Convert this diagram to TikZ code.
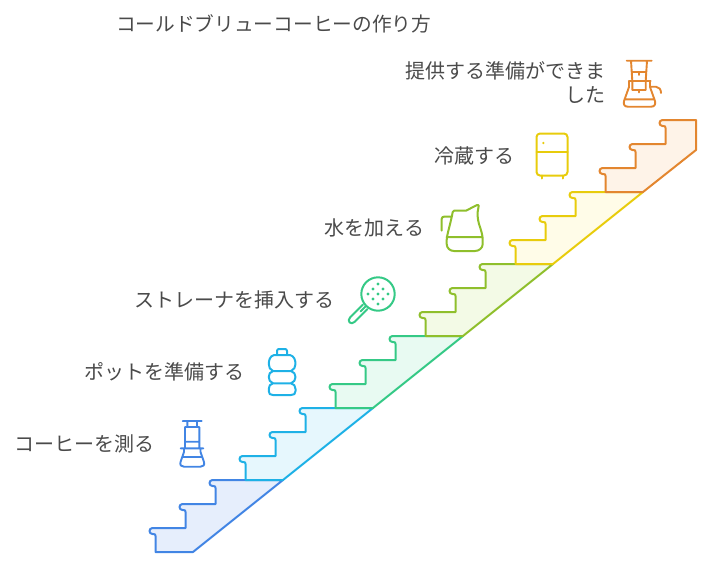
\documentclass[tikz,border=0pt]{standalone}
\usepackage{fontspec}
\setmainfont{Noto Sans CJK JP}
\definecolor{cA}{HTML}{4285E4}\definecolor{fA}{HTML}{E6EEFC}
\definecolor{cB}{HTML}{1EB1E6}\definecolor{fB}{HTML}{E6F7FD}
\definecolor{cC}{HTML}{35C986}\definecolor{fC}{HTML}{E8FAF2}
\definecolor{cD}{HTML}{8FBF2C}\definecolor{fD}{HTML}{F3FAE6}
\definecolor{cE}{HTML}{E8CC0C}\definecolor{fE}{HTML}{FFFCE8}
\definecolor{cF}{HTML}{E3862F}\definecolor{fF}{HTML}{FEF3E8}
\definecolor{txt}{HTML}{4A4A4A}
\tikzset{
  label text/.style={text=txt,font=\fontsize{20}{24}\selectfont,inner sep=0pt,outer sep=0pt},
  title text/.style={text=txt,font=\fontsize{19.7}{24}\selectfont,inner sep=0pt,outer sep=0pt},
  line s/.style={line width=2pt,line join=round,line cap=round},
  icon s/.style={line width=1.9pt,line join=round,line cap=round},
}
\begin{document}
\begin{tikzpicture}[x=1pt,y=-1pt]
\useasboundingbox (0,0) rectangle (709,565);
% one riser with its rounded nose: vertical line at x=#1, tread at y=#2
\def\nose#1#2{%
  -- (#1,#2+8) .. controls (#1,#2+6.6) and (#1-0.6,#2+6) .. (#1-2,#2+6)
  -- (#1-3,#2+6) .. controls (#1-7,#2+6) and (#1-7,#2) .. (#1-3,#2)}
\def\stair#1#2#3#4{%
 \begin{scope}[shift={(#3,#4)}]
 \filldraw[line s,draw=#1,fill=#2]
  (193,552) -- (155.5,552) \nose{155.5}{528}
  -- (185.5,528) \nose{185.5}{504}
  -- (215.5,504) \nose{215.5}{480}
  -- (283,480) -- cycle;
 \end{scope}}
\stair{cA}{fA}{0}{0}
\stair{cB}{fB}{90}{-72}
\stair{cC}{fC}{180}{-144}
\stair{cD}{fD}{270}{-216}
\stair{cE}{fE}{360}{-288}
\filldraw[line s,draw=cF,fill=fF]
  (643,192) -- (605.5,192) \nose{605.5}{168}
  -- (635.5,168) \nose{635.5}{144}
  -- (665.5,144) \nose{665.5}{120}
  -- (696,120) -- (696,150) -- cycle;
% labels
\node[title text,anchor=west] (title) at (116,23.5) {コールドブリューコーヒーの作り方};
\node[label text,anchor=east] (l1) at (154,443.5) {コーヒーを測る};
\node[label text,anchor=east] (l2) at (244,371.5) {ポットを準備する};
\node[label text,anchor=east] (l3) at (334,299.5) {ストレーナを挿入する};
\node[label text,anchor=east] (l4) at (424,227.5) {水を加える};
\node[label text,anchor=east] (l5) at (514,155.5) {冷蔵する};
\node[label text,anchor=east,align=right] (l6) at (605,83) {提供する準備ができま\\した};
% coffee maker, blue
\draw[icon s,draw=cA]
  (182.7,421) -- (201.7,421)
  (187.3,421) -- (187.3,427) (197,421) -- (197,427)
  (185,427) -- (199.3,427)
  (185,427) -- (185,448) (199.3,427) -- (199.3,448)
  (185,441.7) -- (199.3,441.7)
  (180.7,448.3) -- (203.3,448.3)
  (184,448.3) -- (184,452) -- (180.5,462) .. controls (179.8,465) and (181,466.7) .. (184,466.7) -- (200.5,466.7) .. controls (203.5,466.7) and (204.7,465) .. (204,462) -- (200.5,452) -- (200.5,448.3)
  (182,457) -- (202.5,457);
% coffee maker, orange
\draw[icon s,draw=cF]
  (626.7,60.7) -- (651.7,60.7)
  (631,60.7) -- (632.3,81) (647,60.7) -- (645.7,81)
  (632,72) -- (646,72) (639,72) -- (639,75)
  (628.7,81) -- (650.7,81)
  (632.3,81) -- (632.3,90) (645.7,81) -- (645.7,90)
  (632.3,90) -- (645.7,90) (639,90) -- (639,92.5)
  (629,81) -- (629,87) -- (624,101) .. controls (623,105) and (625,106.7) .. (628,106.7) -- (651,106.7) .. controls (654,106.7) and (656,105) .. (655,101) -- (650,87) -- (650,81)
  (624.5,99.3) -- (654.5,99.3)
  (650,86.7) -- (656,86.7) .. controls (659,86.7) and (661,89.5) .. (661,93);
% bottle
\draw[line s,draw=cB]
 (277,355) -- (277,351) .. controls (277,349.5) and (278,349) .. (279,349) -- (285,349) .. controls (286,349) and (287,349.5) .. (287,351) -- (287,355)
 (274,355) -- (290,355) .. controls (294,356) and (295.5,360) .. (295.5,364) .. controls (295.5,367) and (294,370) .. (291,371)
 -- (273,371) .. controls (270,370) and (268.8,367) .. (268.8,364) .. controls (268.8,360) and (270,356) .. (274,355)
 (273,371) .. controls (270,372) and (268.8,374) .. (268.8,377) .. controls (268.8,380) and (270,382) .. (273,383.3) -- (291,383.3)
 .. controls (294,382) and (295.5,380) .. (295.5,377) .. controls (295.5,374) and (294,372) .. (291,371)
 (273,383.3) .. controls (270,384) and (268.8,386) .. (268.8,389) -- (268.8,391) .. controls (268.8,394) and (270,395) .. (273,395) -- (291,395) .. controls (294,395) and (295.5,394) .. (295.5,391) -- (295.5,389) .. controls (295.5,386) and (294,384) .. (291,383.3);
% strainer
\draw[line s,draw=cC] (378,294) circle[radius=16.7];
\draw[line s,draw=cC]
 (366,306) -- (360.5,311.5) (363,304.5) -- (350,317.5) .. controls (346.5,321) and (351,325.5) .. (354.5,322) -- (367.5,309);
\foreach \px/\py in {378/284,373/289,383/289,368/294,378/294,388/294,373/299,383/299,378/304}
 \fill[cC] (\px,\py) circle[radius=1.7];
% pitcher
\draw[line s,draw=cD]
 (441.7,230.7) -- (441.7,219) .. controls (441.7,217.5) and (442.5,216.7) .. (444,216.7) -- (452,216.7)
 (446.7,237) -- (482.7,237)
 (452.7,212) .. controls (452.7,211) and (453,210.7) .. (454,210.7) -- (466,210.7) -- (477,205) .. controls (478.5,204.5) and (479,205.5) .. (478.5,207) .. controls (477,213) and (477.5,219) .. (479,224) .. controls (481,230) and (482.7,235) .. (482.7,240) -- (482.7,244) .. controls (482.7,248) and (479,251) .. (475,251) -- (454,251) .. controls (450,251) and (446.7,248) .. (446.7,244) -- (446.7,240) .. controls (446.7,235) and (451,222) .. (452.7,212);
% fridge
\draw[line s,draw=cE,rounded corners=3.5pt] (536.5,133.5) rectangle (567.5,175.5);
\draw[line s,draw=cE] (536.5,152) -- (567.5,152) (541.5,175.5) -- (541.5,178.5) (562.5,175.5) -- (562.5,178.5);
\fill[cE] (543.3,143) circle[radius=1.3];
\end{tikzpicture}
\end{document}
